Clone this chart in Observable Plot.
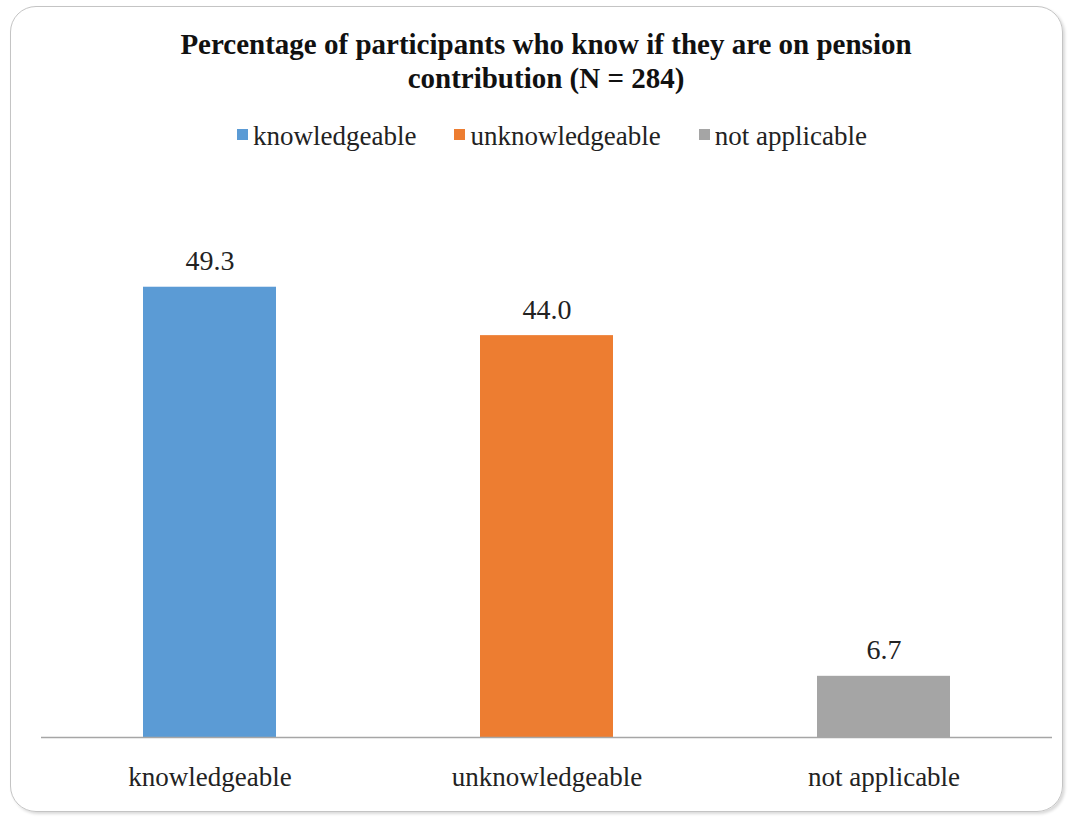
<!DOCTYPE html>
<html>
<head>
<meta charset="utf-8">
<script src="https://cdn.jsdelivr.net/npm/d3@7"></script>
<script src="https://cdn.jsdelivr.net/npm/@observablehq/plot@0.6"></script>
<style>
  html, body { margin: 0; padding: 0; background: #ffffff; }
  body { width: 1073px; height: 818px; position: relative; overflow: hidden; font-family: "Liberation Serif", "Times New Roman", serif; }
  #frame { position: absolute; left: 10px; top: 6px; width: 1051px; height: 804px; border: 1.5px solid #c4c4c4; border-radius: 26px; box-shadow: 2px 2px 3px rgba(0,0,0,0.15); }
  #title { position: absolute; left: 0; top: 27px; width: 1092px; text-align: center; font-weight: bold; font-size: 29px; line-height: 34px; color: #111; white-space: nowrap; }
  #legend { position: absolute; left: 0; top: 121px; width: 1104px; display: flex; justify-content: center; gap: 38px; font-size: 27px; color: #222; line-height: 30px; white-space: nowrap; }
  #legend .item { display: flex; align-items: flex-start; }
  #legend .sw { width: 11px; height: 11px; margin-right: 5px; margin-top: 8px; display: inline-block; }
  #chart { position: absolute; left: 0; top: 0; }
</style>
</head>
<body>
<div id="frame"></div>
<div id="title">Percentage of participants who know if they are on pension<br>contribution (N = 284)</div>
<div id="legend"></div>
<div id="chart"></div>
<script>
const categories = ["knowledgeable", "unknowledgeable", "not applicable"];
const values = [49.3, 44.0, 6.7];
const colors = ["#5B9BD5", "#ED7D31", "#A5A5A5"];

const data = categories.map((c, i) => ({category: c, value: values[i]}));

const legend = document.getElementById("legend");
categories.forEach((c, i) => {
  const item = document.createElement("div");
  item.className = "item";
  const sw = document.createElement("span");
  sw.className = "sw";
  sw.style.background = colors[i];
  item.appendChild(sw);
  item.appendChild(document.createTextNode(c));
  legend.appendChild(item);
});

const chart = Plot.plot({
  width: 1073,
  height: 818,
  marginLeft: 41,
  marginRight: 21,
  marginTop: 189,
  marginBottom: 81,
  style: { fontFamily: "Liberation Serif, Times New Roman, serif", fontSize: "27px", color: "#222", background: "transparent", overflow: "visible" },
  x: { domain: categories, paddingInner: 0.605, paddingOuter: 0.3025, label: null },
  y: { domain: [0, 60], axis: null },
  color: { domain: categories, range: colors },
  marks: [
    Plot.barY(data, { x: "category", y: "value", fill: "category" }),
    Plot.ruleY([0], { stroke: "#a6a6a6", strokeWidth: 1.5 }),
    Plot.text(data, { x: "category", y: "value", text: d => d.value.toFixed(1), dy: -26, lineAnchor: "middle", fill: "#222", fontSize: 28 }),
    Plot.axisX({ tickSize: 0, tickPadding: 29, fontSize: 27, label: null, fill: "#222" })
  ]
});
document.getElementById("chart").appendChild(chart);
</script>
</body>
</html>
